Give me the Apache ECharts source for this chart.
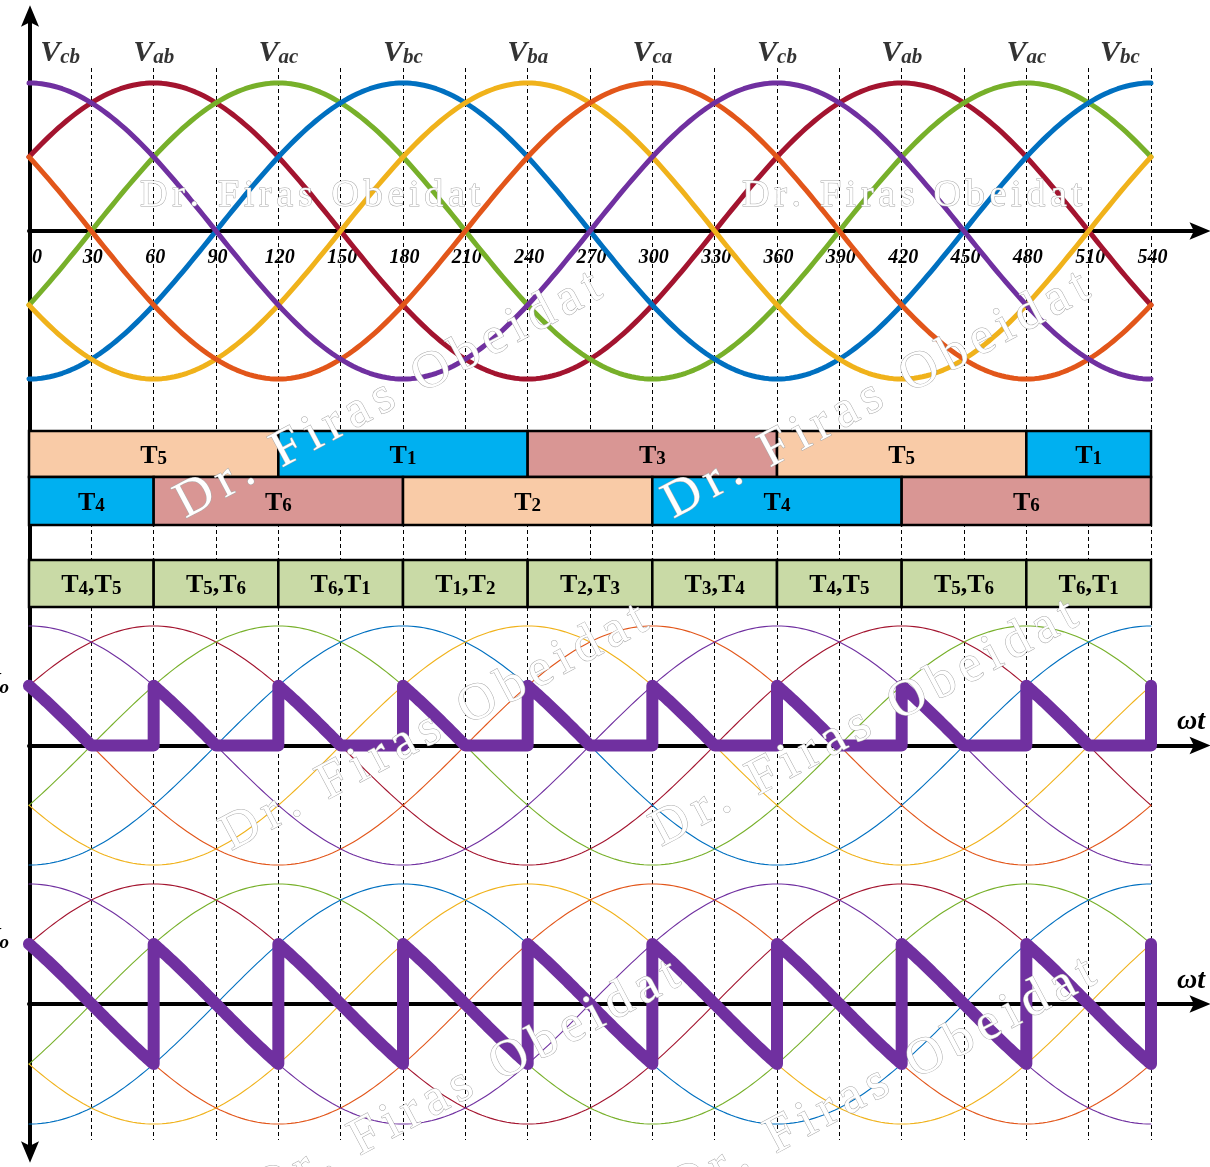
<!DOCTYPE html>
<html>
<head>
<meta charset="utf-8">
<script src="https://cdn.jsdelivr.net/npm/echarts@6/dist/echarts.min.js"></script>
<style>
  html, body { margin: 0; padding: 0; background: #ffffff; }
  #chart { width: 1210px; height: 1167px; }
</style>
</head>
<body>
<div id="chart"></div>
<script>
// ---- Three-phase line voltages: name and angle (deg) of each positive peak ----
const phaseNames = ['Vab', 'Vac', 'Vbc', 'Vba', 'Vca', 'Vcb'];
const phasePeaks = [60, 120, 180, 240, 300, 0];
const phaseAmplitude = 1;

// ---- Names written above the peaks ----
const peakLabelNames  = ['Vcb', 'Vab', 'Vac', 'Vbc', 'Vba', 'Vca', 'Vcb', 'Vab', 'Vac', 'Vbc'];
const peakLabelAngles = [0, 60, 120, 180, 240, 300, 360, 420, 480, 540];

// ---- Angle tick labels on the ωt axis ----
const angleTicks = [0, 30, 60, 90, 120, 150, 180, 210, 240, 270, 300, 330, 360, 390, 420, 450, 480, 510, 540];

// ---- Thyristor conduction intervals ----
const upperGates = ['T5', 'T1', 'T3', 'T5', 'T1'];
const upperEdges = [0, 120, 240, 360, 480, 540];
const lowerGates = ['T4', 'T6', 'T2', 'T4', 'T6'];
const lowerEdges = [0, 60, 180, 300, 420, 540];
const gatePairs  = ['T4,T5', 'T5,T6', 'T6,T1', 'T1,T2', 'T2,T3', 'T3,T4', 'T4,T5', 'T5,T6', 'T6,T1'];
const pairEdges  = [0, 60, 120, 180, 240, 300, 360, 420, 480, 540];

// ---- Line voltage applied to the load in each 60° interval (last entry: value after 540°) ----
const outputPhases = ['Vca', 'Vcb', 'Vab', 'Vac', 'Vbc', 'Vba', 'Vca', 'Vcb', 'Vab', 'Vac'];

// ---------------------------------------------------------------------------
const SERIF = '"Liberation Serif", "Times New Roman", serif';
const phaseColors = {
  Vab: '#A3142F', Vac: '#77B02A', Vbc: '#0070C0',
  Vba: '#F0B21B', Vca: '#E2561A', Vcb: '#7030A0'
};
const gateColors = {
  T1: '#00B0F0', T4: '#00B0F0',
  T3: '#D99694', T6: '#D99694',
  T5: '#F9CBA7', T2: '#F9CBA7'
};
const pairColor = '#C9DAA6';
const outColor = '#7030A0';
const rad = Math.PI / 180;

function lineVoltage(name, deg) {
  return phaseAmplitude * Math.cos((deg - phasePeaks[phaseNames.indexOf(name)]) * rad);
}
function curve(name) {
  const pts = [];
  for (let d = 0; d <= 540; d += 2) pts.push([d, lineVoltage(name, d)]);
  return pts;
}
function outputWave(freewheel) {
  const f = v => (freewheel ? Math.max(v, 0) : v);
  const pts = [];
  for (let k = 0; k < outputPhases.length; k++) {
    const s = pairEdges[k];
    if (k === outputPhases.length - 1) { pts.push([s, f(lineVoltage(outputPhases[k], s))]); break; }
    const e = pairEdges[k + 1];
    for (let d = s; d <= e; d += 1) pts.push([d, f(lineVoltage(outputPhases[k], d))]);
  }
  return pts;
}

// conduction blocks: [start, end, row] + label
const blockRows = [[0, 46], [46, 94], [129, 176]];
const blocks = [];
upperGates.forEach((g, i) => blocks.push({ s: upperEdges[i], e: upperEdges[i + 1], row: 0, label: g, color: gateColors[g] }));
lowerGates.forEach((g, i) => blocks.push({ s: lowerEdges[i], e: lowerEdges[i + 1], row: 1, label: g, color: gateColors[g] }));
gatePairs.forEach((g, i) => blocks.push({ s: pairEdges[i], e: pairEdges[i + 1], row: 2, label: g, color: pairColor }));

function gateRich(label) {
  return label.split(',').map(t => '{m|T}{s|' + t.slice(1) + '}').join('{m|,}');
}

const arrowPath = 'path://M0,0 L10,24 L0,19 L-10,24 Z';

// ---- grids ----
const L = 29, W = 1122;
const grids = [
  { left: 30, right: 10, top: 16, bottom: 15 },          // 0 vertical axis
  { left: L, width: W, top: 46, height: 370 },            // 1 line voltages
  { left: L, width: W, top: 68, height: 1072 },           // 2 dashed 30° guides
  { left: L, width: W, top: 431, height: 176 },           // 3 conduction blocks
  { left: L, width: W, top: 602.1, height: 286.8 },       // 4 output with freewheeling
  { left: L, width: W, top: 860, height: 288 },           // 5 output without freewheeling
  { left: L, right: 10, top: 231, height: 10 },           // 6 ωt axis (top)
  { left: L, right: 10, top: 745.5, height: 10 },         // 7 ωt axis (middle)
  { left: L, right: 10, top: 1004, height: 10 },          // 8 ωt axis (bottom)
  { left: L, width: W, top: 200, height: 31 }             // 9 angle labels under the top axis
].map(g => Object.assign({ outerBoundsMode: 'none', containLabel: false }, g));

const hidden = { axisLine: { show: false }, axisTick: { show: false }, axisLabel: { show: false }, splitLine: { show: false } };
const xAxes = [], yAxes = [];

// 0: vertical axis with arrows at both ends
xAxes.push({ gridIndex: 0, type: 'value', min: 0, max: 1, show: false });
yAxes.push({
  gridIndex: 0, type: 'value', min: 0, max: 1,
  axisLine: { show: true, onZero: false, symbol: [arrowPath, arrowPath], symbolSize: [18, 22],
              lineStyle: { color: '#000', width: 4 } },
  axisTick: { show: false }, axisLabel: { show: false }, splitLine: { show: false }
});
// 1: line voltages
xAxes.push(Object.assign({ gridIndex: 1, type: 'value', min: 0, max: 540 }, hidden));
yAxes.push(Object.assign({ gridIndex: 1, type: 'value', min: -1.25, max: 1.25 }, hidden));
// 2: dashed guides every 30°
xAxes.push({
  gridIndex: 2, type: 'value', min: 0, max: 540, interval: 30,
  axisLine: { show: false }, axisTick: { show: false }, axisLabel: { show: false },
  splitLine: { show: true, lineStyle: { color: '#000', width: 1, type: [4, 3] } }
});
yAxes.push(Object.assign({ gridIndex: 2, type: 'value', min: 0, max: 1 }, hidden));
// 3: conduction blocks
xAxes.push(Object.assign({ gridIndex: 3, type: 'value', min: 0, max: 540 }, hidden));
yAxes.push(Object.assign({ gridIndex: 3, type: 'value', min: 0, max: 176, inverse: true }, hidden));
// 4, 5: output panels
xAxes.push(Object.assign({ gridIndex: 4, type: 'value', min: 0, max: 540 }, hidden));
yAxes.push(Object.assign({ gridIndex: 4, type: 'value', min: -1.2, max: 1.2 }, hidden));
xAxes.push(Object.assign({ gridIndex: 5, type: 'value', min: 0, max: 540 }, hidden));
yAxes.push(Object.assign({ gridIndex: 5, type: 'value', min: -1.2, max: 1.2 }, hidden));
// 6-8: horizontal axes with arrow heads
[6, 7, 8].forEach(gi => {
  xAxes.push({
    gridIndex: gi, type: 'value', min: 0, max: 1, position: 'top',
    axisLine: { show: true, onZero: false, symbol: ['none', arrowPath], symbolSize: [20, 21],
                lineStyle: { color: '#000', width: 4 } },
    axisTick: { show: false }, axisLabel: { show: false }, splitLine: { show: false }
  });
  yAxes.push(Object.assign({ gridIndex: gi, type: 'value', min: 0, max: 1 }, hidden));
});
// 9: angle labels
xAxes.push({
  gridIndex: 9, type: 'value', min: 0, max: 540, interval: 30, position: 'bottom',
  axisLine: { show: false, onZero: false }, axisTick: { show: false }, splitLine: { show: false },
  axisLabel: {
    show: true, customValues: angleTicks, margin: 17,
    fontFamily: SERIF, fontWeight: 'bold', fontStyle: 'italic', fontSize: 20, color: '#000',
    alignMinLabel: 'left', padding: [0, 0, 0, 3],
    formatter: v => String(v)
  }
});
yAxes.push(Object.assign({ gridIndex: 9, type: 'value', min: 0, max: 1 }, hidden));

// ---- series ----
const series = [];
function phaseLines(axisIdx, width, z) {
  phaseNames.forEach(n => series.push({
    type: 'line', name: n, xAxisIndex: axisIdx, yAxisIndex: axisIdx,
    data: curve(n), showSymbol: false, symbol: 'none', z: z,
    lineStyle: { color: phaseColors[n], width: width, cap: 'round', join: 'round' },
    silent: true
  }));
}
phaseLines(1, 5, 3);
phaseLines(4, 1.1, 3);
phaseLines(5, 1.1, 3);

series.push({
  type: 'line', xAxisIndex: 4, yAxisIndex: 4, data: outputWave(true), showSymbol: false, symbol: 'none', z: 6,
  lineStyle: { color: outColor, width: 12, cap: 'round', join: 'round' }, silent: true
});
series.push({
  type: 'line', xAxisIndex: 5, yAxisIndex: 5, data: outputWave(false), showSymbol: false, symbol: 'none', z: 6,
  lineStyle: { color: outColor, width: 12, cap: 'round', join: 'round' }, silent: true
});

// phase names above the peaks
series.push({
  type: 'scatter', xAxisIndex: 1, yAxisIndex: 1, z: 8, silent: true,
  symbolSize: 1, itemStyle: { color: 'rgba(0,0,0,0)' },
  data: peakLabelAngles.map(a => [Math.min(Math.max(a, 15), 525), 1.2]),
  label: {
    show: true, position: 'inside', color: '#000',
    formatter: p => '{v|V}{s|' + peakLabelNames[p.dataIndex].slice(1) + '}',
    rich: {
      v: { fontFamily: SERIF, fontWeight: 'bold', fontStyle: 'italic', fontSize: 30, lineHeight: 30, color: '#000' },
      s: { fontFamily: SERIF, fontWeight: 'bold', fontStyle: 'italic', fontSize: 21, lineHeight: 17, verticalAlign: 'bottom', color: '#000' }
    }
  }
});

// conduction blocks
series.push({
  type: 'custom', xAxisIndex: 3, yAxisIndex: 3, z: 4, silent: true,
  data: blocks.map(b => [b.s, b.e, b.row]),
  renderItem: (params, api) => {
    const b = blocks[params.dataIndex];
    const band = blockRows[api.value(2)];
    const p0 = api.coord([api.value(0), band[0]]);
    const p1 = api.coord([api.value(1), band[1]]);
    return {
      type: 'rect',
      shape: { x: p0[0], y: p0[1], width: p1[0] - p0[0], height: p1[1] - p0[1] },
      style: { fill: b.color, stroke: '#000', lineWidth: 2.5 },
      textContent: {
        style: {
          text: gateRich(b.label), fill: '#000',
          rich: {
            m: { fontFamily: SERIF, fontWeight: 'bold', fontSize: 26, lineHeight: 26, fill: '#000' },
            s: { fontFamily: SERIF, fontWeight: 'bold', fontSize: 19, lineHeight: 14, verticalAlign: 'bottom', fill: '#000' }
          }
        }
      },
      textConfig: { position: 'inside', offset: [0, 2] }
    };
  }
});

// ---- text drawn on top: axis names and the author mark ----
const measureCtx = document.createElement('canvas').getContext('2d');
function authorMark(x, y, size, spacing, angleDeg) {
  const text = 'Dr. Firas Obeidat';
  measureCtx.font = size + 'px ' + SERIF;
  const children = [];
  let off = 0;
  for (const ch of text) {
    if (ch !== ' ') {
      children.push({
        type: 'text', x: off, y: Math.round(size * 0.22), z: 100, silent: true,
        style: {
          text: ch, font: size + 'px ' + SERIF, fill: '#ffffff',
          stroke: '#a8a8a8', lineWidth: 1, verticalAlign: 'bottom', align: 'left',
          shadowColor: 'rgba(0,0,0,0.4)', shadowBlur: 2, shadowOffsetX: 1.2, shadowOffsetY: 1.2
        }
      });
    }
    off += measureCtx.measureText(ch).width + spacing;
  }
  return { type: 'group', x: x, y: y, rotation: angleDeg * rad, silent: true, z: 100, children: children };
}

const axisNameStyle = { fontFamily: SERIF, fontWeight: 'bold', fontStyle: 'italic', fontSize: 28, fill: '#000' };
function voLabel(y) {
  return {
    type: 'text', x: 9, y: y, z: 20, silent: true,
    style: {
      text: '{v|V}{s|o}', align: 'right', verticalAlign: 'middle',
      rich: {
        v: { fontFamily: SERIF, fontWeight: 'bold', fontStyle: 'italic', fontSize: 27, lineHeight: 27, fill: '#000' },
        s: { fontFamily: SERIF, fontWeight: 'bold', fontStyle: 'italic', fontSize: 19, lineHeight: 16, verticalAlign: 'bottom', fill: '#000' }
      }
    }
  };
}

const graphic = [
  { type: 'text', x: 1177, y: 722, z: 20, silent: true, style: Object.assign({ text: 'ωt', align: 'left', verticalAlign: 'middle' }, axisNameStyle) },
  { type: 'text', x: 1177, y: 981, z: 20, silent: true, style: Object.assign({ text: 'ωt', align: 'left', verticalAlign: 'middle' }, axisNameStyle) },
  voLabel(684),
  voLabel(939),
  authorMark(140, 207, 38, 4.7, 0),
  authorMark(742, 207, 38, 4.7, 0),
  authorMark(186, 520, 52, 7, 28),
  authorMark(674, 520, 52, 7, 28),
  authorMark(232, 852, 52, 7, 28),
  authorMark(662, 848, 52, 7, 28),
  authorMark(264, 1208, 52, 7, 28),
  authorMark(680, 1206, 52, 7, 28)
];

const chart = echarts.init(document.getElementById('chart'), null, { renderer: 'canvas' });
chart.setOption({
  animation: false,
  backgroundColor: '#ffffff',
  grid: grids,
  xAxis: xAxes,
  yAxis: yAxes,
  series: series,
  graphic: graphic
});
</script>
</body>
</html>
